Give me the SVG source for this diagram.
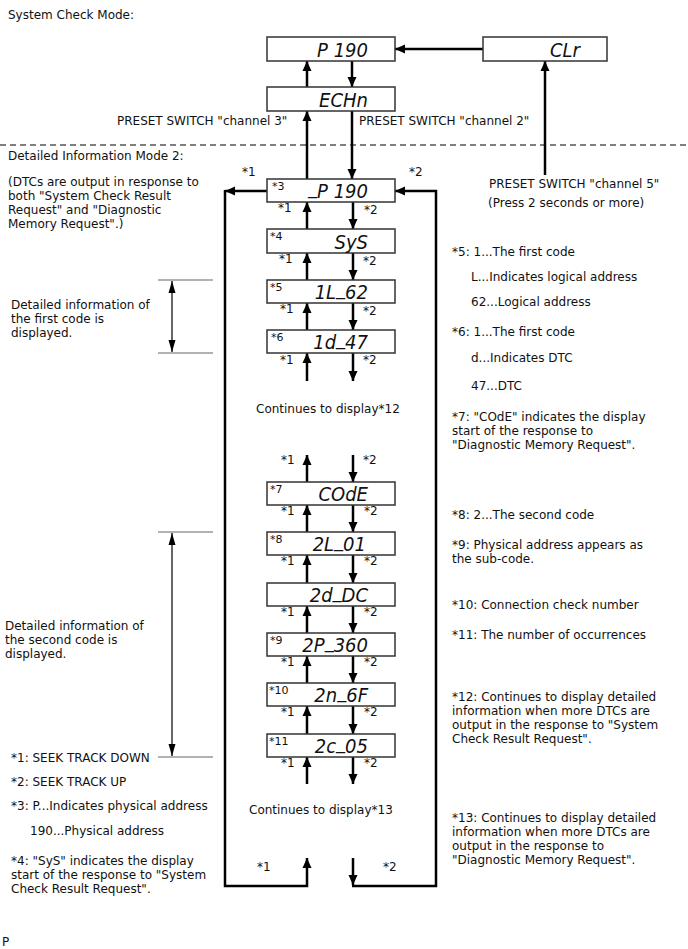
<svg xmlns="http://www.w3.org/2000/svg" width="688" height="949" viewBox="0 0 688 949">
<style>
text{font-family:"DejaVu Sans","Liberation Sans",sans-serif;font-size:12px;fill:#111}
.box{fill:#fff;stroke:#333;stroke-width:1.5}
.seg{font-family:"DejaVu Sans Condensed","DejaVu Sans",sans-serif;font-size:20px;font-style:italic;text-anchor:end;fill:#111}
.tag{font-size:11px}
.c{fill:none;stroke:#000;stroke-width:2.5}
.thin{fill:none;stroke:#000;stroke-width:1.2}
.gray{stroke:#999;stroke-width:1.5}
</style>
<defs>
<marker id="ah" markerUnits="userSpaceOnUse" markerWidth="10" markerHeight="10" refX="10" refY="5" orient="auto"><path d="M0,0.5 L10,5 L0,9.5 z" fill="#000"/></marker>
<marker id="ahs" markerUnits="userSpaceOnUse" markerWidth="12" markerHeight="8" refX="12" refY="4" orient="auto"><path d="M0,0.5 L12,4 L0,7.5 z" fill="#000"/></marker>
</defs>
<rect width="688" height="949" fill="#fff"/>
<text x="8" y="19">System Check Mode:</text>
<line x1="0" y1="145" x2="688" y2="145" stroke="#555" stroke-width="1.5" stroke-dasharray="6,4"/>
<text x="8" y="160">Detailed Information Mode 2:</text>
<g id="connectors">
<line class="c" x1="483" y1="49" x2="395" y2="49" marker-end="url(#ah)"/>
<line class="c" x1="307" y1="87" x2="307" y2="61" marker-end="url(#ah)"/>
<line class="c" x1="352" y1="61" x2="352" y2="87" marker-end="url(#ah)"/>
<line class="c" x1="307" y1="179" x2="307" y2="111" marker-end="url(#ah)"/>
<line class="c" x1="352" y1="111" x2="352" y2="179" marker-end="url(#ah)"/>
<line class="c" x1="545" y1="175" x2="545" y2="61" marker-end="url(#ah)"/>
<line class="c" x1="267" y1="191" x2="225" y2="191" marker-end="url(#ah)"/>
<path class="c" d="M225,190 V886 H307 V858" marker-end="url(#ah)"/>
<line class="c" x1="353" y1="858" x2="353" y2="885" marker-end="url(#ah)"/>
<path class="c" d="M352,886 H436 V191 H395" marker-end="url(#ah)"/>
<line class="c" x1="307" y1="229" x2="307" y2="202" marker-end="url(#ah)"/>
<line class="c" x1="353" y1="202" x2="353" y2="229" marker-end="url(#ah)"/>
<line class="c" x1="307" y1="280" x2="307" y2="253" marker-end="url(#ah)"/>
<line class="c" x1="353" y1="253" x2="353" y2="280" marker-end="url(#ah)"/>
<line class="c" x1="307" y1="330" x2="307" y2="303" marker-end="url(#ah)"/>
<line class="c" x1="353" y1="303" x2="353" y2="330" marker-end="url(#ah)"/>
<line class="c" x1="307" y1="381" x2="307" y2="353" marker-end="url(#ah)"/>
<line class="c" x1="353" y1="353" x2="353" y2="381" marker-end="url(#ah)"/>
<line class="c" x1="307" y1="482" x2="307" y2="455" marker-end="url(#ah)"/>
<line class="c" x1="353" y1="455" x2="353" y2="482" marker-end="url(#ah)"/>
<line class="c" x1="307" y1="532" x2="307" y2="505" marker-end="url(#ah)"/>
<line class="c" x1="353" y1="505" x2="353" y2="532" marker-end="url(#ah)"/>
<line class="c" x1="307" y1="583" x2="307" y2="555" marker-end="url(#ah)"/>
<line class="c" x1="353" y1="555" x2="353" y2="583" marker-end="url(#ah)"/>
<line class="c" x1="307" y1="633" x2="307" y2="606" marker-end="url(#ah)"/>
<line class="c" x1="353" y1="606" x2="353" y2="633" marker-end="url(#ah)"/>
<line class="c" x1="307" y1="683" x2="307" y2="656" marker-end="url(#ah)"/>
<line class="c" x1="353" y1="656" x2="353" y2="683" marker-end="url(#ah)"/>
<line class="c" x1="307" y1="734" x2="307" y2="706" marker-end="url(#ah)"/>
<line class="c" x1="353" y1="706" x2="353" y2="734" marker-end="url(#ah)"/>
<line class="c" x1="307" y1="784" x2="307" y2="757" marker-end="url(#ah)"/>
<line class="c" x1="353" y1="757" x2="353" y2="784" marker-end="url(#ah)"/>
<line class="gray" x1="158" y1="280" x2="213" y2="280"/>
<line class="gray" x1="158" y1="353" x2="213" y2="353"/>
<line class="thin" x1="172" y1="317" x2="172" y2="281" marker-end="url(#ahs)"/>
<line class="thin" x1="172" y1="317" x2="172" y2="352" marker-end="url(#ahs)"/>
<line class="gray" x1="158" y1="532" x2="213" y2="532"/>
<line class="gray" x1="158" y1="757" x2="213" y2="757"/>
<line class="thin" x1="172" y1="645" x2="172" y2="533" marker-end="url(#ahs)"/>
<line class="thin" x1="172" y1="645" x2="172" y2="756" marker-end="url(#ahs)"/>
</g>
<g id="labels">
<text x="117" y="125">PRESET SWITCH "channel 3"</text>
<text x="359" y="125">PRESET SWITCH "channel 2"</text>
<text x="489" y="188">PRESET SWITCH "channel 5"</text>
<text x="488" y="207">(Press 2 seconds or more)</text>
<text x="242" y="176">*1</text><text x="409" y="176">*2</text>
<text x="278" y="212">*1</text><text x="364" y="214">*2</text>
<text x="279" y="263">*1</text><text x="363" y="265">*2</text>
<text x="280" y="313">*1</text><text x="363" y="315">*2</text>
<text x="280" y="364">*1</text><text x="363" y="364">*2</text>
<text x="256" y="413">Continues to display*12</text>
<text x="281" y="464">*1</text><text x="363" y="464">*2</text>
<text x="281" y="515">*1</text><text x="364" y="515">*2</text>
<text x="281" y="565">*1</text><text x="364" y="565">*2</text>
<text x="281" y="616">*1</text><text x="364" y="616">*2</text>
<text x="281" y="666">*1</text><text x="364" y="666">*2</text>
<text x="281" y="716">*1</text><text x="364" y="716">*2</text>
<text x="281" y="767">*1</text><text x="364" y="767">*2</text>
<text x="249" y="814">Continues to display*13</text>
<text x="257" y="871">*1</text><text x="383" y="871">*2</text>
</g>
<g id="n-p190"><rect class="box" x="267" y="37" width="128" height="24"/><text class="seg" x="368" y="57">P 190</text></g>
<g id="n-clr"><rect class="box" x="483" y="37" width="124" height="24"/><text class="seg" x="580" y="57">CLr</text></g>
<g id="n-echn"><rect class="box" x="267" y="87" width="128" height="24"/><text class="seg" x="368" y="107">ECHn</text></g>
<g id="n-3"><rect class="box" x="267" y="179" width="128" height="23"/><text class="tag" x="272" y="190">*3</text><text class="seg" x="368" y="198"><tspan dy="-4">_</tspan><tspan dy="4">P 190</tspan></text></g>
<g id="n-4"><rect class="box" x="267" y="229" width="128" height="24"/><text class="tag" x="270" y="240">*4</text><text class="seg" x="368" y="249">SyS</text></g>
<g id="n-5"><rect class="box" x="267" y="280" width="128" height="23"/><text class="tag" x="270" y="291">*5</text><text class="seg" x="368" y="299">1L<tspan dy="-4">_</tspan><tspan dy="4">62</tspan></text></g>
<g id="n-6"><rect class="box" x="267" y="330" width="128" height="23"/><text class="tag" x="271" y="341">*6</text><text class="seg" x="368" y="349">1d<tspan dy="-4">_</tspan><tspan dy="4">47</tspan></text></g>
<g id="n-7"><rect class="box" x="267" y="482" width="128" height="23"/><text class="tag" x="270" y="493">*7</text><text class="seg" x="368" y="501">COdE</text></g>
<g id="n-8"><rect class="box" x="267" y="532" width="128" height="23"/><text class="tag" x="270" y="543">*8</text><text class="seg" x="366" y="551">2L<tspan dy="-4">_</tspan><tspan dy="4">01</tspan></text></g>
<g id="n-dc"><rect class="box" x="267" y="583" width="128" height="23"/><text class="seg" x="368" y="602">2d<tspan dy="-4">_</tspan><tspan dy="4">DC</tspan></text></g>
<g id="n-9"><rect class="box" x="267" y="633" width="128" height="23"/><text class="tag" x="270" y="644">*9</text><text class="seg" x="368" y="652">2P<tspan dy="-4">_</tspan><tspan dy="4">360</tspan></text></g>
<g id="n-10"><rect class="box" x="267" y="683" width="128" height="23"/><text class="tag" x="269" y="694">*10</text><text class="seg" x="368" y="702">2n<tspan dy="-4">_</tspan><tspan dy="4">6F</tspan></text></g>
<g id="n-11"><rect class="box" x="267" y="734" width="128" height="23"/><text class="tag" x="269" y="745">*11</text><text class="seg" x="368" y="753">2c<tspan dy="-4">_</tspan><tspan dy="4">05</tspan></text></g>
<g id="notes-left">
<text x="8" y="186">(DTCs are output in response to</text>
<text x="8" y="200">both "System Check Result</text>
<text x="8" y="214">Request" and "Diagnostic</text>
<text x="8" y="228">Memory Request".)</text>
<text x="11" y="309">Detailed information of</text>
<text x="11" y="323">the first code is</text>
<text x="11" y="337">displayed.</text>
<text x="5" y="630">Detailed information of</text>
<text x="5" y="644">the second code is</text>
<text x="5" y="658">displayed.</text>
<text x="11" y="762">*1: SEEK TRACK DOWN</text>
<text x="11" y="786">*2: SEEK TRACK UP</text>
<text x="11" y="810">*3: P...Indicates physical address</text>
<text x="30" y="835">190...Physical address</text>
<text x="11" y="865">*4: "SyS" indicates the display</text>
<text x="11" y="879">start of the response to "System</text>
<text x="11" y="893">Check Result Request".</text>
<text x="2" y="946" font-size="10">P</text>
</g>
<g id="notes-right">
<text x="452" y="256">*5: 1...The first code</text>
<text x="471" y="281">L...Indicates logical address</text>
<text x="471" y="306">62...Logical address</text>
<text x="452" y="336">*6: 1...The first code</text>
<text x="471" y="362">d...Indicates DTC</text>
<text x="471" y="390">47...DTC</text>
<text x="452" y="421">*7: "COdE" indicates the display</text>
<text x="452" y="435">start of the response to</text>
<text x="452" y="449">"Diagnostic Memory Request".</text>
<text x="452" y="519">*8: 2...The second code</text>
<text x="452" y="549">*9: Physical address appears as</text>
<text x="452" y="563">the sub-code.</text>
<text x="452" y="609">*10: Connection check number</text>
<text x="452" y="639">*11: The number of occurrences</text>
<text x="452" y="701">*12: Continues to display detailed</text>
<text x="452" y="715">information when more DTCs are</text>
<text x="452" y="729">output in the response to "System</text>
<text x="452" y="743">Check Result Request".</text>
<text x="452" y="822">*13: Continues to display detailed</text>
<text x="452" y="836">information when more DTCs are</text>
<text x="452" y="850">output in the response to</text>
<text x="452" y="864">"Diagnostic Memory Request".</text>
</g>
</svg>
